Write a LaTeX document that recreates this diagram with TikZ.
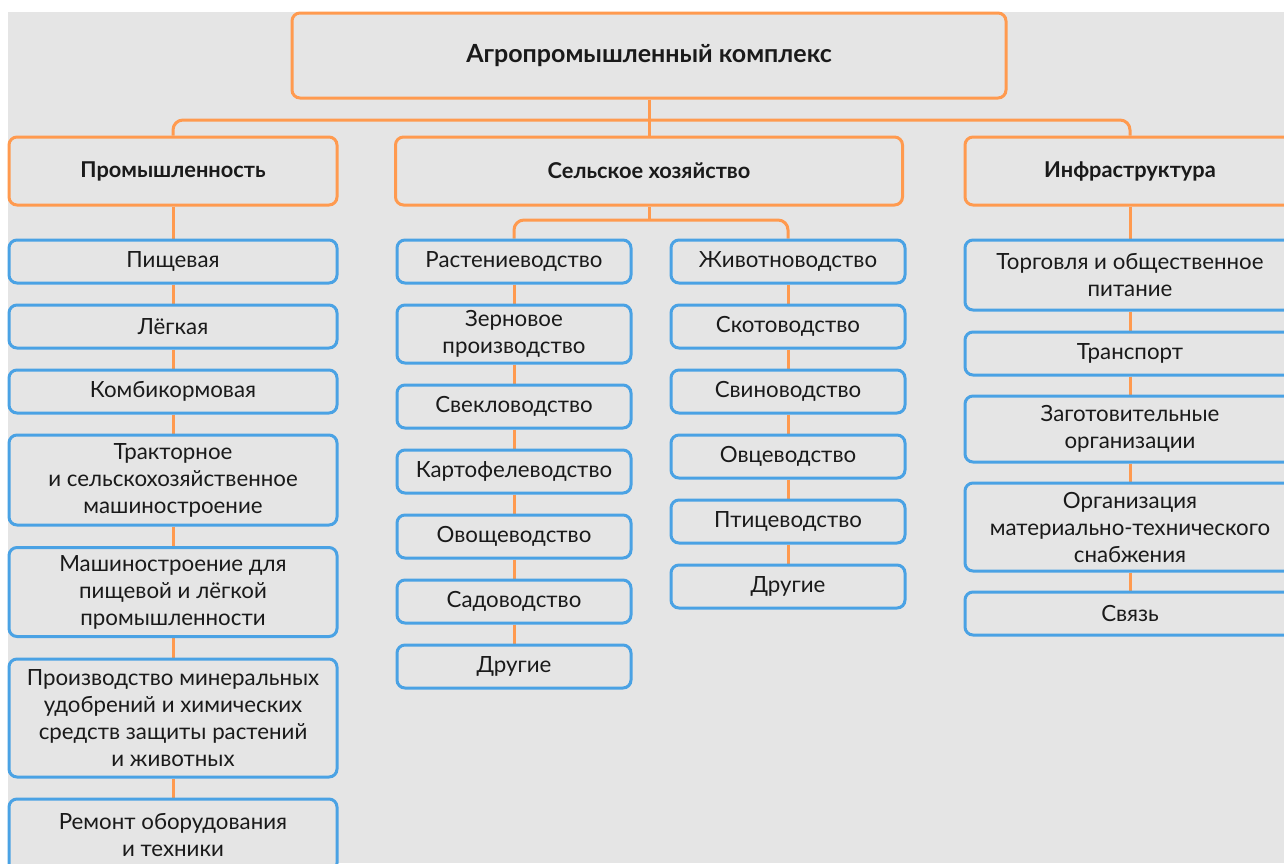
\documentclass[tikz,border=0pt]{standalone}
\usepackage{fontspec}
\setmainfont{Lato}
\definecolor{org}{HTML}{FF9A4F}
\definecolor{blu}{HTML}{4AA2E4}
\definecolor{bgc}{HTML}{E5E5E5}
\definecolor{txt}{HTML}{1A1A1A}
\pgfdeclarelayer{back}
\pgfdeclarelayer{lines}
\pgfsetlayers{back,lines,main}
\begin{document}
\begin{tikzpicture}[x=1pt,y=-1pt,
  conn/.style={draw=org, line width=3pt},
  boxbase/.style={line width=3pt, rounded corners=8pt, fill=bgc, align=center, text=txt, inner sep=0pt},
  head/.style={boxbase, draw=org, font=\bfseries\fontsize{21.8}{27}\selectfont},
  item/.style={boxbase, draw=blu, font=\fontsize{22.3}{27}\selectfont},
  pw/.style={minimum width=328pt},
  sw/.style={minimum width=234pt},
  iw/.style={minimum width=330pt},
  hh/.style={minimum height=#1pt}
]
\useasboundingbox (0,0) rectangle (1284,863);
\begin{pgfonlayer}{back}
\fill[white] (0,0) rectangle (1284,863);
\fill[bgc] (8,12) rectangle (1284,863);
\end{pgfonlayer}

% top
\node[head, minimum width=714pt, hh=85, font=\bfseries\fontsize{25}{30}\selectfont] (top) at (649,55.5) {Агропромышленный комплекс};

% level 2
\node[head, pw, hh=68] (prom) at (173,171) {Промышленность};
\node[head, minimum width=507pt, hh=68] (sel) at (649,171) {Сельское хозяйство};
\node[head, iw, hh=68] (inf) at (1130,171) {Инфраструктура};

% industry column
\node[item, pw, hh=43] (p1) at (173,261.5) {Пищевая};
\node[item, pw, hh=43] (p2) at (173,326.5) {Лёгкая};
\node[item, pw, hh=43] (p3) at (173,391.5) {Комбикормовая};
\node[item, pw, hh=90] (p4) at (173,480) {Тракторное\\и сельскохозяйственное\\машиностроение};
\node[item, pw, hh=89] (p5) at (173,592) {Машиностроение для\\пищевой и лёгкой\\промышленности};
\node[item, pw, hh=118] (p6) at (173,718) {Производство минеральных\\удобрений и химических\\средств защиты растений\\и животных};
\node[item, pw, hh=72] (p7) at (173,835) {Ремонт оборудования\\и техники};

% agriculture left
\node[item, sw, hh=43] (r1) at (514,261.5) {Растениеводство};
\node[item, sw, hh=58] (r2) at (514,334) {Зерновое\\производство};
\node[item, sw, hh=43] (r3) at (514,406.5) {Свекловодство};
\node[item, sw, hh=43] (r4) at (514,471.5) {Картофелеводство};
\node[item, sw, hh=43] (r5) at (514,536.5) {Овощеводство};
\node[item, sw, hh=43] (r6) at (514,601.5) {Садоводство};
\node[item, sw, hh=43] (r7) at (514,666.5) {Другие};

% agriculture right
\node[item, sw, hh=43] (z1) at (788,261.5) {Животноводство};
\node[item, sw, hh=43] (z2) at (788,326.5) {Скотоводство};
\node[item, sw, hh=43] (z3) at (788,391.5) {Свиноводство};
\node[item, sw, hh=43] (z4) at (788,456.5) {Овцеводство};
\node[item, sw, hh=43] (z5) at (788,521.5) {Птицеводство};
\node[item, sw, hh=43] (z6) at (788,586.5) {Другие};

% infrastructure
\node[item, iw, hh=70] (i1) at (1130,275) {Торговля и общественное\\питание};
\node[item, iw, hh=43] (i2) at (1130,353.5) {Транспорт};
\node[item, iw, hh=66] (i3) at (1130,429) {Заготовительные\\организации};
\node[item, iw, hh=88] (i4) at (1130,527) {Организация\\материально-технического\\снабжения};
\node[item, iw, hh=43] (i5) at (1130,613.5) {Связь};

\coordinate (bus) at (649,120);
\coordinate (sbus) at (649,220);

\begin{pgfonlayer}{lines}
\draw[conn] (top.south) -- (sel.north);
\draw[conn, rounded corners=10pt] (prom.north) |- (bus) -| (inf.north);
\draw[conn] (sel.south) -- (sbus);
\draw[conn, rounded corners=10pt] (r1.north) |- (sbus) -| (z1.north);
\draw[conn] (prom.south) -- (p1.north);
\draw[conn] (p1) -- (p2) -- (p3) -- (p4) -- (p5) -- (p6) -- (p7);
\draw[conn] (r1) -- (r2) -- (r3) -- (r4) -- (r5) -- (r6) -- (r7);
\draw[conn] (z1) -- (z2) -- (z3) -- (z4) -- (z5) -- (z6);
\draw[conn] (inf.south) -- (i1.north);
\draw[conn] (i1) -- (i2) -- (i3) -- (i4) -- (i5);
\end{pgfonlayer}
\end{tikzpicture}
\end{document}
